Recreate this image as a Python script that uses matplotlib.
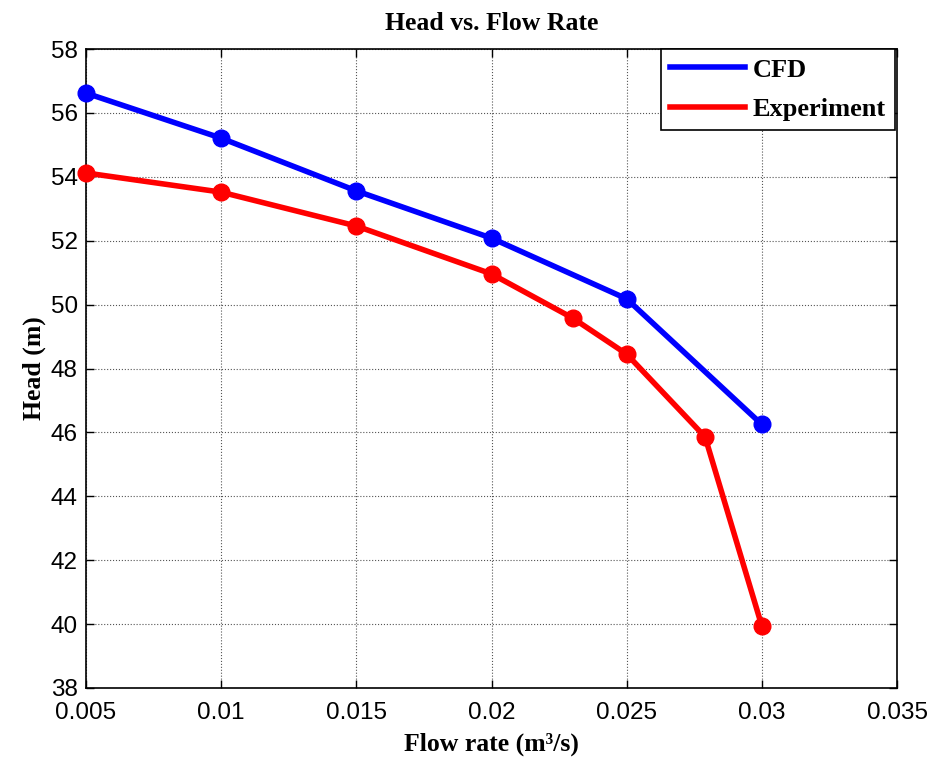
import matplotlib.pyplot as plt

flow_cfd = [0.005, 0.010, 0.015, 0.020, 0.025, 0.030]
head_cfd = [56.62, 55.21, 53.56, 52.08, 50.18, 46.25]

flow_exp = [0.005, 0.010, 0.015, 0.020, 0.023, 0.025, 0.0279, 0.030]
head_exp = [54.12, 53.52, 52.46, 50.96, 49.58, 48.45, 45.86, 39.94]

xticks = [0.005, 0.01, 0.015, 0.02, 0.025, 0.03, 0.035]
xticklabels = ['0.005', '0.01', '0.015', '0.02', '0.025', '0.03', '0.035']
yticks = list(range(38, 59, 2))

serif = ['Liberation Serif', 'DejaVu Serif']
plt.rcParams['font.family'] = ['Liberation Sans', 'DejaVu Sans']

fig = plt.figure(figsize=(9.27, 7.64), dpi=100)
ax = fig.add_axes([86 / 927, 1 - 688 / 764, (897 - 86) / 927, (688 - 49) / 764])

ax.plot(flow_cfd, head_cfd, color='#0000ff', lw=4, marker='o', ms=12, label='CFD', clip_on=False, zorder=3)
ax.plot(flow_exp, head_exp, color='#ff0000', lw=4, marker='o', ms=12, label='Experiment', clip_on=False, zorder=3)

ax.set_xlim(0.005, 0.035)
ax.set_ylim(38, 58)
ax.set_xticks(xticks)
ax.set_xticklabels(xticklabels)
ax.set_yticks(yticks)
ax.tick_params(direction='in', labelsize=17.5, length=6, width=1, top=True, right=True, pad=6)
ax.tick_params(axis='x', pad=10)
ax.grid(True, color='#555555', linestyle=':', linewidth=0.8)
for s in ax.spines.values():
    s.set_linewidth(1.2)

ax.set_title('Head vs. Flow Rate', fontsize=18.5, fontweight='bold', family=serif, pad=14)
ax.set_xlabel('Flow rate (m³/s)', fontsize=18.5, fontweight='bold', family=serif, labelpad=6)
ax.set_ylabel('Head (m)', fontsize=18.5, fontweight='bold', family=serif, labelpad=3)

leg = ax.legend(loc='upper right', bbox_to_anchor=(0.998, 1.0), prop={'family': serif, 'weight': 'bold', 'size': 19},
                fancybox=False, edgecolor='black', framealpha=1, handlelength=2.85, borderaxespad=0,
                labelspacing=0.6, handletextpad=0.3, borderpad=0.35)
leg.get_frame().set_linewidth(1.2)
for h in leg.legend_handles:
    h.set_marker('')

fig.savefig('out.png', dpi=100)
